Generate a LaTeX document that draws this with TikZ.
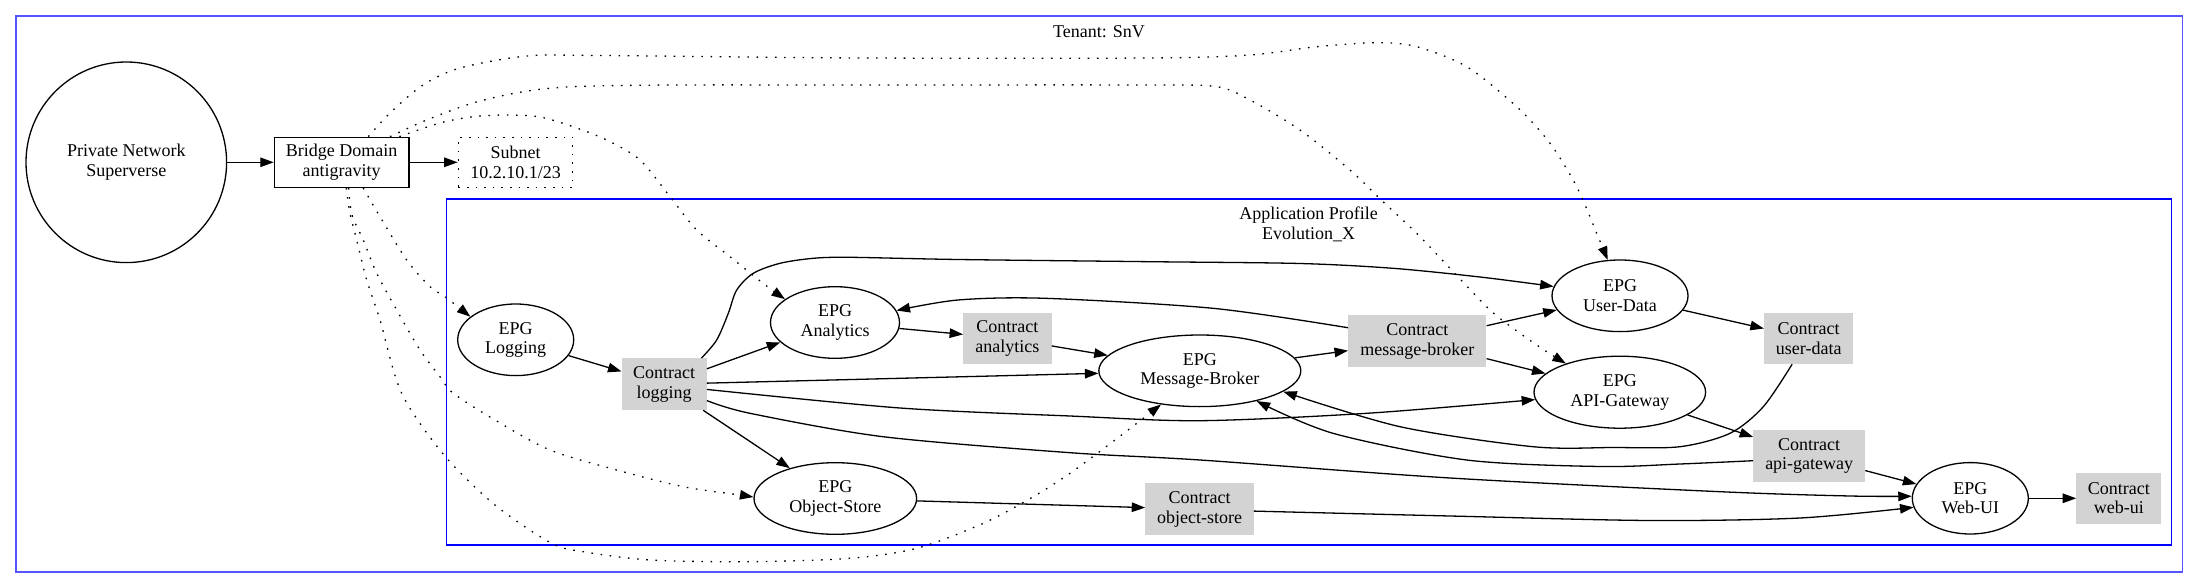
\documentclass[tikz,border=0pt]{standalone}
\usepackage{fontspec}
\setmainfont{Liberation Serif}
\usetikzlibrary{shapes.geometric,arrows.meta}
\definecolor{ctrgray}{HTML}{D3D3D3}
\definecolor{outerblue}{RGB}{85,85,255}
\begin{document}
\begin{tikzpicture}[x=1pt,y=-1pt,
  lbl/.style={font=\fontsize{18}{19.6}\selectfont, align=center, inner sep=0pt},
  epg/.style={lbl, ellipse, draw, line width=1.3pt},
  ctr/.style={lbl, rectangle, fill=ctrgray},
  conn/.style={line width=1.3pt, -{Triangle[length=13.5pt,width=9.5pt]}},
  dconn/.style={conn, dash pattern=on 1.6pt off 7.6pt},
]
\useasboundingbox (0,0) rectangle (2199,588);
% clusters
\draw[outerblue, line width=1.7pt] (15.7,15.7) rectangle (2182.5,571.7);
\draw[blue, line width=1.1pt] (446.7,199) rectangle (2171.6,545);
\node[lbl, anchor=base] (tn) at (1099,38) {Tenant: SnV};
\node[lbl, anchor=north] (ap) at (1308.5,206.7) {Application Profile\\Evolution\_X};
% nodes
\node[lbl, circle, draw, line width=1.3pt, minimum size=200.6] (pn) at (126.3,162.3) {Private Network\\Superverse};
\node[lbl, rectangle, draw, line width=1.3pt, minimum width=134.6, minimum height=50] (bd) at (341.7,162.3) {Bridge Domain\\antigravity};
\node[lbl, rectangle, draw, line width=1.3pt, dash pattern=on 1.6pt off 7pt, minimum width=114.4, minimum height=50] (sub) at (515.5,162.3) {Subnet\\10.2.10.1/23};
\node[epg, minimum width=116, minimum height=71.6] (log) at (515.7,339.8) {EPG\\Logging};
\node[epg, minimum width=129, minimum height=71.6] (ana) at (835,322.5) {EPG\\Analytics};
\node[epg, minimum width=202, minimum height=71.6] (mb) at (1199.8,370.8) {EPG\\Message-Broker};
\node[epg, minimum width=162.6, minimum height=71.6] (os) at (835.3,498.5) {EPG\\Object-Store};
\node[epg, minimum width=136, minimum height=71.6] (ud) at (1620,295.8) {EPG\\User-Data};
\node[epg, minimum width=171.6, minimum height=72] (api) at (1619.8,392.2) {EPG\\API-Gateway};
\node[epg, minimum width=116, minimum height=71.4] (web) at (1970.3,498.3) {EPG\\Web-UI};
\node[ctr, minimum width=85, minimum height=51.7] (clog) at (664.2,384.2) {Contract\\logging};
\node[ctr, minimum width=88.2, minimum height=51.6] (cana) at (1007.4,338.5) {Contract\\analytics};
\node[ctr, minimum width=138.2, minimum height=52.3] (cmb) at (1417.3,341.2) {Contract\\message-broker};
\node[ctr, minimum width=89.3, minimum height=50.7] (cud) at (1808.7,338.7) {Contract\\user-data};
\node[ctr, minimum width=111.7, minimum height=51.7] (capi) at (1809.2,455.8) {Contract\\api-gateway};
\node[ctr, minimum width=108.2, minimum height=51.7] (cos) at (1199.5,509.2) {Contract\\object-store};
\node[ctr, minimum width=84.8, minimum height=51.3] (cweb) at (2118.8,498.3) {Contract\\web-ui};
% straight connectors
\draw[conn] (pn) -- (bd);
\draw[conn] (bd) -- (sub);
\draw[conn] (log) -- (clog);
\draw[conn] (clog) -- (ana);
\draw[conn] (clog) -- (mb);
\draw[conn] (clog) -- (os);
\draw[conn] (ana) -- (cana);
\draw[conn] (cana) -- (mb);
\draw[conn] (mb) -- (cmb);
\draw[conn] (cmb) -- (ud);
\draw[conn] (cmb) -- (api);
\draw[conn] (ud) -- (cud);
\draw[conn] (api) -- (capi);
\draw[conn] (capi) -- (web);
\draw[conn] (os) -- (cos);
\draw[conn] (web) -- (cweb);
% curved connectors
\draw[conn] plot[smooth] coordinates {(clog.35) (716.7,340) (728.3,313.3) (736.7,290) (753.3,273.3) (780,263.3) (813.3,258.3) (850,257.3) (958,259.5) (1150,261.7) (1300,263.5) (1393,268.3) (1480,277) (ud.172)};
\draw[conn] plot[smooth] coordinates {(clog.-7) (900,408) (1070,416) (1200,420.7) (1366.7,413.3) (api.185.4)};
\draw[conn] plot[smooth] coordinates {(clog.-21) (750,413.3) (883,436.7) (1070,452.7) (1200,460) (1450,478) (1720,491.7) (1850,496) (web.178.4)};
\draw[conn] plot[smooth] coordinates {(cmb.169.4) (1213,308.3) (1045,298.3) (958,300) (ana.11.4)};
\draw[conn] plot[smooth] coordinates {(cud.-123.6) (1763.3,406.7) (1730,433.3) (1680,446.7) (1613,447.5) (1533,446.7) (1400,426.7) (mb.-14.3)};
\draw[conn] plot[smooth] coordinates {(capi.185.3) (1680,464) (1600,466.5) (1466.7,460) (1333,433.3) (mb.-28.5)};
\draw[conn] plot[smooth] coordinates {(cos.-2.7) (1450,516) (1650,520.5) (1800,518) (web.189.8)};
% dotted connectors from the bridge domain
\draw[dconn] plot[smooth] coordinates {(bd.44) (390,113) (423,85) (460,68) (527,56) (600,55.5) (860,58) (1150,58) (1250,55) (1316.7,46.7) (1376.7,42.7) (1416.7,46.7) (1466.7,66.7) (1516.7,106.7) (1550,143.3) (1576.7,186.7) (1596.7,233.3) (ud.109.5)};
\draw[dconn] plot[smooth] coordinates {(bd.28) (426.7,120) (473,103) (523,91.7) (573,86.7) (673,85) (860,85) (1150,85) (1216.7,86.7) (1250,100) (1300,130) (1350,170) (1383,201.7) (1416.7,233.3) (1450,268.3) (1490,310) (1520,333.3) (1546.7,351.7) (api.152)};
\draw[dconn] plot[smooth] coordinates {(bd.24) (440,123) (473,116.7) (506.7,115) (540,117) (573,126.7) (606.7,140) (640,160) (670,196.7) (696.7,230) (730,256.7) (763,283.3) (ana.155)};
\draw[dconn] plot[smooth] coordinates {(bd.-50) (380,216.7) (406.7,260) (430,286.7) (445,296.7) (log.153)};
\draw[dconn] plot[smooth] coordinates {(bd.-75) (352,215) (363.3,240) (376.7,273.3) (396.7,310) (420,350) (440,376.7) (453.3,393.3) (495,420) (550,450) (616.7,470) (683.3,486.7) (740,495) (os.179)};
\draw[dconn] plot[smooth] coordinates {(bd.-80) (350,213.3) (356.7,240) (366.7,280) (380,320) (401.7,393.3) (444,455) (495,505) (551,543) (583.3,551.7) (650,560) (750,561.7) (850,558.3) (916.7,548.3) (983.3,523.3) (1033.3,496.7) (1070,473.3) (1115,440) (mb.-139)};
\end{tikzpicture}
\end{document}
